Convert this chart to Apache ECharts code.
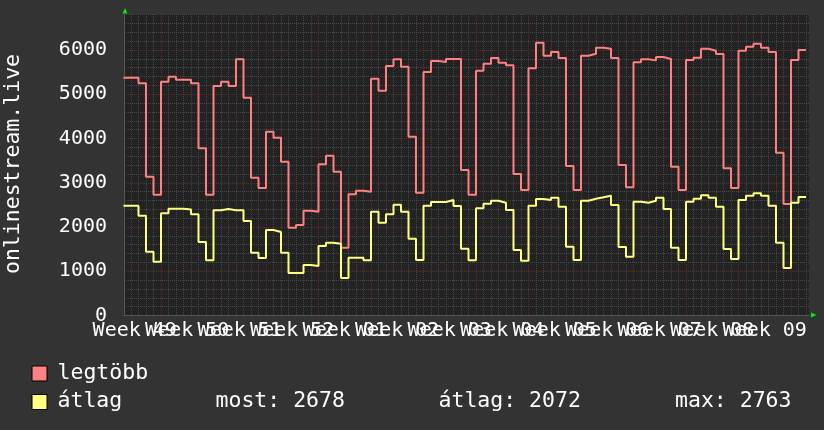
<!DOCTYPE html>
<html>
<head>
<meta charset="utf-8">
<script src="https://cdn.jsdelivr.net/npm/echarts@6/dist/echarts.min.js"></script>
<style>
html,body{margin:0;padding:0;background:#333333;}
#chart{width:824px;height:430px;}
</style>
</head>
<body>
<div id="chart"></div>
<script>
// ---- data (one value per day; day 0 = Monday where the first week gridline sits) ----
var startDay = -5;
var maxValues = [
  5375, 5375, 5250, 3138, 2731,
  5284, 5397, 5330, 5330, 5250, 3778, 2731,
  5186, 5284, 5186, 5789, 4923, 3115, 2880,
  4154, 4019, 3476, 1985, 2045, 2369, 2346,
  3416, 3612, 3250, 1533, 2738, 2821, 2798,
  5352, 5081, 5638, 5789, 5623, 4041, 2776,
  5503, 5751, 5729, 5797, 5797, 3288, 2731,
  5533, 5691, 5819, 5714, 5653, 3198, 2836,
  5586, 6166, 5872, 5955, 5819, 3378, 2836,
  5872, 5917, 6053, 6030, 5819, 3401, 2896,
  5721, 5789, 5766, 5842, 5797, 3363, 2836,
  5774, 5827, 6030, 5985, 5910, 3326, 2881,
  5985, 6075, 6143, 6053, 5955, 3680, 2520,
  5774, 6000
];
var avgValues = [
  2482, 2482, 2256, 1443, 1217,
  2310, 2410, 2410, 2395, 2290, 1660, 1250,
  2377, 2407, 2377, 2377, 2136, 1420, 1299,
  1932, 1887, 1420, 960, 960, 1141, 1119,
  1571, 1646, 1623, 847, 1307, 1307, 1247,
  2346, 2098, 2286, 2505, 2346, 1736, 1254,
  2482, 2565, 2565, 2610, 2475, 1510, 1247,
  2422, 2527, 2595, 2550, 2384, 1480, 1239,
  2482, 2633, 2610, 2663, 2459, 1555, 1254,
  2595, 2640, 2671, 2708, 2497, 1548, 1330,
  2572, 2550, 2595, 2663, 2407, 1533, 1254,
  2572, 2640, 2716, 2663, 2459, 1503, 1277,
  2610, 2708, 2763, 2708, 2482, 1646, 1073,
  2550, 2678
];
var weekLabels = ['49','50','51','52','01','02','03','04','05','06','07','08','09'];
var yTickValues = [0, 1000, 2000, 3000, 4000, 5000, 6000];
var seriesNames = ['legtöbb', 'átlag'];
var statLabels = ['most:', 'átlag:', 'max:'];
var statValues = [2678, 2072, 2763];

// ---- axes geometry ----
var xMin = -37 / 7.5, xMax = 648 / 7.5;
var yMax = 6814;
var weekLines = [], dayLines = [], labelPosEven = [], labelPosOdd = [], yMinor = [];
for (var d = 0; d <= 84; d += 7) weekLines.push(d);
for (var d2 = -4; d2 <= 86; d2++) if (d2 % 7 !== 0) dayLines.push(d2);
for (var k = 0; k < weekLabels.length; k++) (k % 2 === 0 ? labelPosEven : labelPosOdd).push(-3.5 + 7 * k);
for (var v = 200; v <= 6800; v += 200) if (v % 1000 !== 0) yMinor.push(v);

function toSteps(vals) {
  var out = [];
  for (var i = 0; i < vals.length; i++) out.push([startDay + i, vals[i]]);
  out.push([startDay + vals.length, vals[vals.length - 1]]);
  return out;
}
function weekName(val) { return 'Week ' + weekLabels[Math.round((val + 3.5) / 7)]; }

var MONO = 'DejaVu Sans Mono';
var colMax = '#ff8080', colAvg = '#ffff80';
var minorColor = '#474747', majorColor = '#5e2e2e';
var chart = echarts.init(document.getElementById('chart'), null, {renderer: 'canvas'});

function labelAxis(positions) {
  return {
    type: 'value', min: xMin, max: xMax, position: 'bottom',
    axisLine: {show: false}, axisTick: {show: false, customValues: positions},
    splitLine: {show: false},
    axisLabel: {
      show: true, customValues: positions, color: '#ffffff', fontFamily: MONO, fontSize: 20, margin: 5,
      hideOverlap: false, showMinLabel: true, showMaxLabel: true, formatter: weekName
    }
  };
}

var option = {
  backgroundColor: '#333333',
  animation: false,
  grid: {left: 124, top: 14, width: 685, height: 301.5, show: true, backgroundColor: '#222222', borderWidth: 0,
         containLabel: false, outerBoundsMode: 'none'},
  xAxis: [
    {
      type: 'value', min: xMin, max: xMax, position: 'bottom',
      axisLine: {show: false}, axisTick: {show: false, customValues: dayLines},
      axisLabel: {show: false},
      splitLine: {show: true, lineStyle: {color: minorColor, width: 1, type: [1, 1]}}
    },
    {
      type: 'value', min: xMin, max: xMax, position: 'bottom',
      axisLine: {show: true, onZero: false, lineStyle: {color: '#555555', width: 1}},
      axisTick: {show: false, customValues: weekLines},
      axisLabel: {show: false},
      splitLine: {show: true, lineStyle: {color: majorColor, width: 1, type: [1, 1]}}
    },
    labelAxis(labelPosEven),
    labelAxis(labelPosOdd)
  ],
  yAxis: [
    {
      type: 'value', min: 0, max: yMax, position: 'left',
      axisLine: {show: false}, axisTick: {show: false, customValues: yMinor},
      axisLabel: {show: false},
      splitLine: {show: true, lineStyle: {color: minorColor, width: 1, type: [1, 1]}}
    },
    {
      type: 'value', min: 0, max: yMax, position: 'left',
      axisLine: {show: true, onZero: false, lineStyle: {color: '#555555', width: 1}},
      axisTick: {show: false, customValues: yTickValues},
      axisLabel: {show: true, customValues: yTickValues, color: '#ffffff', fontFamily: MONO, fontSize: 20, margin: 17,
                  showMinLabel: true, showMaxLabel: true,
                  formatter: function (val) { return String(val); }},
      splitLine: {show: true, lineStyle: {color: majorColor, width: 1, type: [1, 1]}}
    }
  ],
  series: [
    {
      name: seriesNames[0], type: 'line', step: 'end', xAxisIndex: 1, yAxisIndex: 1,
      data: toSteps(maxValues), showSymbol: false, symbol: 'none',
      lineStyle: {color: colMax, width: 2}, itemStyle: {color: colMax}, z: 3
    },
    {
      name: seriesNames[1], type: 'line', step: 'end', xAxisIndex: 1, yAxisIndex: 1,
      data: toSteps(avgValues), showSymbol: false, symbol: 'none',
      lineStyle: {color: colAvg, width: 2}, itemStyle: {color: colAvg}, z: 4
    }
  ],
  graphic: [
    {type: 'text', x: 13, y: 164, rotation: Math.PI / 2,
     style: {text: 'onlinestream.live', fill: '#ffffff', font: '21.5px "DejaVu Sans Mono"', align: 'center', verticalAlign: 'middle'}},
    {type: 'polygon', shape: {points: [[125, 8], [122.5, 13.5], [127.5, 13.5]]}, style: {fill: '#00ee00'}},
    {type: 'polygon', shape: {points: [[816.5, 315], [811, 312.5], [811, 317.5]]}, style: {fill: '#00ee00'}},
    {type: 'rect', shape: {x: 32, y: 366, width: 15, height: 15}, style: {fill: colMax, stroke: '#000000', lineWidth: 1}},
    {type: 'rect', shape: {x: 32, y: 394.5, width: 15, height: 15}, style: {fill: colAvg, stroke: '#000000', lineWidth: 1}},
    {type: 'text', x: 57.5, y: 373.3, style: {text: seriesNames[0], fill: '#ffffff', font: '21.5px "DejaVu Sans Mono"', verticalAlign: 'middle'}},
    {type: 'text', x: 57.5, y: 401.9, style: {text: seriesNames[1], fill: '#ffffff', font: '21.5px "DejaVu Sans Mono"', verticalAlign: 'middle'}},
    {type: 'text', x: 215.5, y: 401.9, style: {text: statLabels[0] + ' ' + statValues[0], fill: '#ffffff', font: '21.5px "DejaVu Sans Mono"', verticalAlign: 'middle'}},
    {type: 'text', x: 438.5, y: 401.9, style: {text: statLabels[1] + ' ' + statValues[1], fill: '#ffffff', font: '21.5px "DejaVu Sans Mono"', verticalAlign: 'middle'}},
    {type: 'text', x: 675, y: 401.9, style: {text: statLabels[2] + ' ' + statValues[2], fill: '#ffffff', font: '21.5px "DejaVu Sans Mono"', verticalAlign: 'middle'}}
  ]
};
chart.setOption(option);
</script>
</body>
</html>
